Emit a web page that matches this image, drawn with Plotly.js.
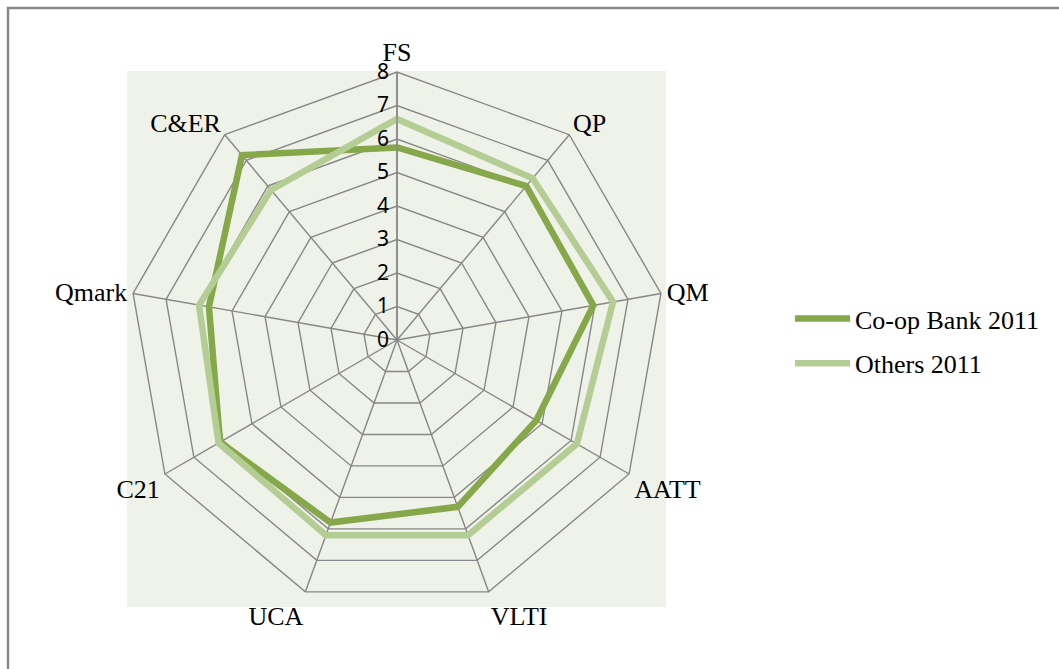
<!DOCTYPE html>
<html><head><meta charset="utf-8">
<script src="https://cdn.plot.ly/plotly-3.0.1.min.js"></script>
<style>html,body{margin:0;padding:0;background:#fff}#chart{width:1059px;height:669px}</style>
</head><body><div id="chart"></div>
<script>
const categories = ["FS","QP","QM","AATT","VLTI","UCA","C21","Qmark","C&ER"];
const coopBank2011 = [5.75, 6.0, 5.95, 4.8, 5.3, 5.8, 6.1, 5.7, 7.2];
const others2011 = [6.6, 6.3, 6.55, 6.2, 6.2, 6.2, 6.15, 6.0, 5.85];
const seriesNames = ["Co-op Bank 2011", "Others 2011"];
const radialTicks = [0,1,2,3,4,5,6,7,8];

const W = 1059, H = 669;
const close = a => a.concat([a[0]]);
const cats = close(categories);

const traces = [
  {type:'scatterpolar', r: close(coopBank2011), theta: cats, mode:'lines', name: seriesNames[0],
   legendgroup:'a', line:{color:'#86A84B', width:6.5}, hoverinfo:'skip'},
  {type:'scatterpolar', r: close(others2011), theta: cats, mode:'lines', name: seriesNames[1],
   legendgroup:'b', line:{color:'#B4CD94', width:6.5}, hoverinfo:'skip'}
];

const layout = {
  width: W, height: H,
  margin:{l:0,r:0,t:0,b:0},
  paper_bgcolor:'#ffffff',
  showlegend:true,
  legend:{x:790/W, y:1-295/H, xanchor:'left', yanchor:'top', traceorder:'grouped', tracegroupgap:8,
          itemwidth:55,
          font:{family:'Liberation Serif', size:26, color:'#000'}, bgcolor:'rgba(0,0,0,0)'},
  polar:{
    domain:{x:[129/W, 665/W], y:[1-608/H, 1-72/H]},
    bgcolor:'rgba(0,0,0,0)',
    gridshape:'linear',
    angularaxis:{rotation:90, direction:'clockwise', type:'category', categoryarray:categories,
      linecolor:'#878787', linewidth:1.4, gridcolor:'#878787', gridwidth:1.4, showline:true,
      ticks:'', tickfont:{family:'Liberation Serif', size:26, color:'#000'}},
    radialaxis:{range:[0,8], tickvals:radialTicks, angle:90, tickangle:90, side:'counterclockwise',
      showline:true, linecolor:'#878787', linewidth:1.4, gridcolor:'#878787', gridwidth:1.4,
      ticks:'', tickfont:{family:'Noto Sans', size:21, color:'#000'}}
  },
  shapes:[
    {type:'rect', xref:'paper', yref:'paper', x0:127/W, x1:666/W, y0:1-607/H, y1:1-71/H,
     fillcolor:'#EFF2E8', line:{width:0}, layer:'below'},
    {type:'rect', xref:'paper', yref:'paper', x0:8/W, x1:1.05, y0:-0.05, y1:1-8/H,
     fillcolor:'rgba(0,0,0,0)', line:{color:'#888888', width:2.5}, layer:'above'}
  ]
};
Plotly.newPlot('chart', traces, layout, {displayModeBar:false, staticPlot:true});
</script></body></html>
